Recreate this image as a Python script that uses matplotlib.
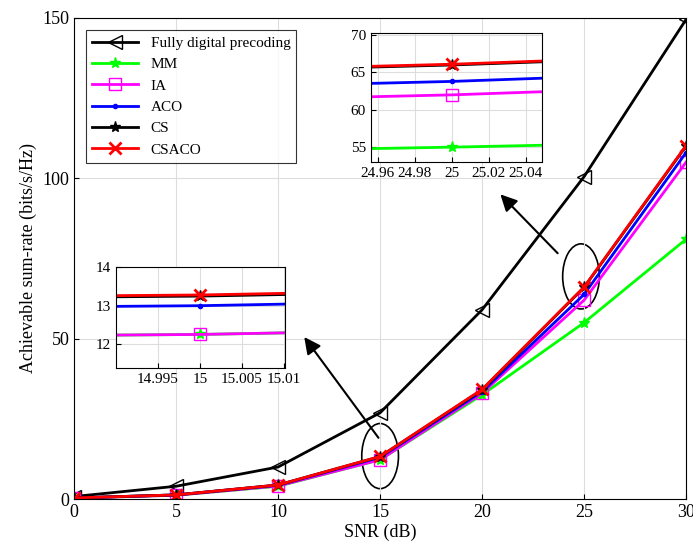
import matplotlib.pyplot as plt
from matplotlib.patches import Ellipse

plt.rcParams['font.family'] = 'Liberation Serif'

snr = [0, 5, 10, 15, 20, 25, 30]
fully = [0.8, 4.0, 10.0, 26.9, 59.0, 100.5, 149.5]
mm = [0.3, 1.2, 4.0, 12.25, 32.5, 55.0, 81.0]
ia = [0.3, 1.2, 4.1, 12.25, 33.0, 62.0, 105.0]
aco = [0.35, 1.3, 4.3, 13.0, 33.5, 63.8, 108.0]
cs = [0.35, 1.3, 4.4, 13.25, 34.0, 66.0, 110.0]
csaco = [0.36, 1.3, 4.4, 13.28, 34.2, 66.1, 110.2]

series = [
    ('Fully digital precoding', fully, 'k', dict(marker='<', mfc='none', ms=10)),
    ('MM', mm, '#00ff00', dict(marker='*', ms=8)),
    ('IA', ia, 'magenta', dict(marker='s', mfc='none', ms=8)),
    ('ACO', aco, 'b', dict(marker='.', ms=6)),
    ('CS', cs, 'k', dict(marker='*', ms=8)),
    ('CSACO', csaco, 'r', dict(marker='x', ms=8, mew=2)),
]

fig = plt.figure(figsize=(6.93, 5.57), dpi=100)
ax = fig.add_axes([0.107, 0.104, 0.883, 0.864])
for name, y, c, kw in series:
    ax.plot(snr, y, color=c, lw=2, label=name, **kw)
ax.set_xlim(0, 30)
ax.set_ylim(0, 150)
ax.set_xticks(range(0, 31, 5))
ax.set_yticks([0, 50, 100, 150])
ax.grid(True, color='#dddddd')
ax.tick_params(labelsize=13, direction='in')
ax.set_xlabel('SNR (dB)', fontsize=13, labelpad=2)
ax.set_ylabel('Achievable sum-rate (bits/s/Hz)', fontsize=13)
leg = ax.legend(loc='upper left', fontsize=11, fancybox=False, edgecolor='k',
                handlelength=3, borderaxespad=0.8)
leg.get_frame().set_linewidth(0.8)

ax.add_patch(Ellipse((15.0, 13.4), 1.8, 20.3, fill=False, lw=1.2, color='k'))
ax.add_patch(Ellipse((24.85, 69.4), 1.8, 20.3, fill=False, lw=1.2, color='k'))
ax.annotate('', xy=(11.2, 51.2), xytext=(15.0, 18.4),
            arrowprops=dict(arrowstyle='-|>', color='k', lw=1.5, mutation_scale=25))
ax.annotate('', xy=(20.8, 95.6), xytext=(23.8, 76),
            arrowprops=dict(arrowstyle='-|>', color='k', lw=1.5, mutation_scale=25))


def inset(rect, xl, yl, xt, xtl, yt):
    a = fig.add_axes(rect)
    for name, y, c, kw in series:
        a.plot(snr, y, color=c, lw=2, **kw)
    a.set_xlim(*xl)
    a.set_ylim(*yl)
    a.set_xticks(xt)
    a.set_xticklabels(xtl)
    a.set_yticks(yt)
    a.grid(True, color='#dddddd')
    a.tick_params(labelsize=11, direction='in')
    return a


inset([0.535, 0.709, 0.247, 0.232], (24.9562, 25.0486), (53, 70.3),
      [24.96, 24.98, 25, 25.02, 25.04], ['24.96', '24.98', '25', '25.02', '25.04'],
      [55, 60, 65, 70])
inset([0.167, 0.339, 0.244, 0.181], (14.990, 15.0101), (11.37, 13.72),
      [14.995, 15, 15.005, 15.01], ['14.995', '15', '15.005', '15.01'],
      [12, 13, 14])

fig.savefig('out.png', dpi=100)
